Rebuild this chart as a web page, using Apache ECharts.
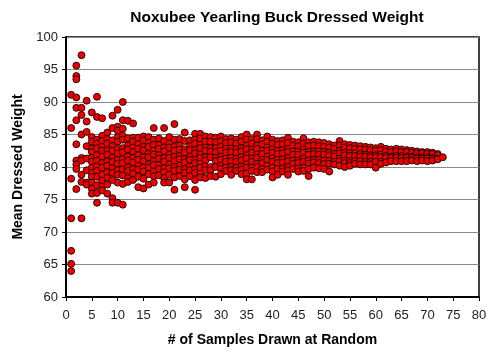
<!DOCTYPE html>
<html><head><meta charset="utf-8">
<script src="https://cdn.jsdelivr.net/npm/echarts@6/dist/echarts.min.js"></script>
<style>html,body{margin:0;padding:0;background:#fff}#c{width:500px;height:357px}</style>
</head><body><div id="c"></div>
<script>
const chartTitle = "Noxubee Yearling Buck Dressed Weight";
const xAxisTitle = "# of Samples Drawn at Random";
const yAxisTitle = "Mean Dressed Weight";
const xTicks = [0,5,10,15,20,25,30,35,40,45,50,55,60,65,70,75,80];
const yTicks = [60,65,70,75,80,85,90,95,100];
// meansBySize[i] = sample means observed for sample size i+1
const meansBySize = [
 [91.1,86.0,78.2,72.1,67.1,65.1,64.0],
 [95.6,94.0,93.5,90.7,89.1,87.2,83.5,81.0,80.4,79.7,76.6],
 [97.2,89.1,88.0,85.0,81.4,81.0,78.8,77.7,72.1],
 [90.2,87.0,85.4,83.2,81.3,79.5,77.6,77.3],
 [88.4,84.6,83.9,82.8,82.3,81.4,80.8,79.9,79.1,78.5,77.6,76.7,75.9],
 [90.8,87.7,84.2,83.6,82.9,81.8,81.0,80.1,79.4,78.5,77.2,76.0,74.5],
 [87.5,84.8,84.0,83.1,82.5,81.6,80.6,79.9,78.8,77.9,77.0,76.4],
 [85.3,84.3,83.6,82.5,81.9,80.8,80.2,79.2,78.3,77.3,75.9],
 [87.9,86.0,84.1,83.2,82.5,81.4,80.8,79.8,79.1,78.0,75.2,74.5],
 [88.8,86.2,85.6,84.6,83.9,82.8,82.1,81.1,80.5,79.5,78.8,77.6,74.5],
 [90.0,87.2,85.9,84.8,84.2,82.9,82.3,81.2,80.6,79.6,78.7,77.4,74.2],
 [87.1,84.4,83.3,82.7,81.6,81.0,79.9,79.4,78.3,77.7],
 [86.7,84.5,83.9,83.0,82.3,81.4,80.7,79.7,79.0,78.0],
 [84.5,83.5,82.8,81.8,81.1,80.2,79.6,78.5,76.9],
 [84.7,84.1,83.1,82.6,81.5,80.9,79.9,79.3,78.2,76.7],
 [84.6,83.7,83.1,82.0,81.5,80.4,79.9,78.9,77.3],
 [86.0,84.2,83.4,82.5,81.9,80.9,80.3,79.3,78.6,77.6],
 [84.4,83.4,82.8,81.8,81.3,80.3,79.7,78.7],
 [86.0,84.0,83.0,82.4,81.4,80.8,79.8,79.2,78.3,77.6],
 [84.6,83.6,83.0,81.9,81.4,80.4,79.8,78.8,77.6],
 [86.6,84.2,83.1,82.5,81.6,80.9,80.0,79.4,78.4,76.5],
 [84.3,83.3,82.7,81.7,81.2,80.2,79.6,78.6],
 [85.3,84.0,82.7,82.2,81.2,80.7,79.7,79.1,78.1,76.9],
 [84.1,83.2,82.6,81.6,81.1,80.1,79.5,78.6],
 [85.1,84.2,83.6,82.6,82.1,81.1,80.6,79.6,79.1,78.0,76.5],
 [85.1,84.4,83.4,82.9,81.9,81.4,80.5,79.9,79.0,78.4],
 [84.7,83.9,83.0,82.5,81.5,81.0,80.1,79.5,78.3],
 [84.6,83.9,82.9,82.4,81.5,80.0,79.5,78.6],
 [84.5,83.8,82.9,82.3,81.4,80.9,80.0,78.5],
 [84.7,84.0,83.1,82.5,81.6,81.1,80.2,79.7,78.9],
 [84.3,83.7,82.8,82.2,81.3,80.8,79.9,79.4],
 [84.4,83.8,82.8,82.3,81.4,80.9,80.0,79.5,78.8],
 [84.2,83.6,82.7,82.2,81.3,80.8,79.9,79.4],
 [84.6,83.9,82.9,82.4,81.5,81.0,80.1,79.6,78.9],
 [85.0,84.2,83.3,82.7,81.8,81.3,80.4,79.9,79.0,78.1],
 [84.3,83.6,82.7,82.2,81.3,80.8,79.9,79.4,78.1],
 [85.0,84.3,83.3,82.8,81.9,81.4,80.5,80.0,79.2],
 [84.1,83.5,82.5,82.0,81.1,80.6,79.7,79.2],
 [84.7,83.9,83.0,82.5,81.6,81.1,80.2,79.6],
 [84.2,83.6,82.7,82.2,81.3,80.8,79.9,79.3,78.4],
 [84.0,83.4,82.5,82.0,81.1,80.6,79.7,78.8],
 [84.1,83.5,82.6,82.1,81.2,80.7,79.8,79.3],
 [84.5,83.7,82.8,82.3,81.4,80.9,80.0,79.5,78.8],
 [83.9,83.3,82.4,81.9,81.0,80.5,79.7],
 [83.8,83.2,82.4,81.9,81.0,80.6,79.8,79.3],
 [84.4,83.6,82.7,82.2,81.3,80.8,79.9,79.4],
 [83.8,83.2,82.3,81.9,81.0,80.5,79.7,78.6],
 [83.9,83.3,82.4,82.0,81.1,80.7,79.9],
 [83.8,83.2,82.4,81.9,81.1,80.6,79.8],
 [83.7,83.1,82.3,81.9,81.0,80.5,79.7],
 [83.5,83.0,82.2,81.8,80.9,80.5,79.3],
 [83.3,82.8,82.0,81.6,80.8,80.4],
 [84.0,83.3,82.5,82.1,81.3,80.9,80.2],
 [83.5,83.0,82.2,81.8,81.0,80.6,80.0],
 [83.4,82.9,82.1,81.7,80.9,80.6,80.2],
 [83.3,82.8,82.1,81.7,80.9,80.5],
 [83.2,82.7,82.0,81.6,80.9,80.4],
 [83.1,82.7,81.9,81.6,80.8,80.4],
 [83.0,82.6,81.8,81.5,80.8,80.4],
 [82.9,82.5,81.8,81.5,80.8,79.9],
 [83.1,82.6,81.9,81.5,80.8,80.5],
 [82.8,82.4,81.7,81.4,80.7],
 [82.7,82.3,81.6,81.4,80.9],
 [82.8,82.4,81.7,81.4,80.9],
 [82.7,82.3,81.7,81.4,80.9],
 [82.6,82.3,81.6,81.4,80.9],
 [82.5,82.2,81.6,81.4,81.0],
 [82.4,82.1,81.5,81.3,80.9],
 [82.3,82.1,81.5,81.3,81.0],
 [82.3,82.0,81.5,81.3,80.9],
 [82.2,82.0,81.4,81.3,81.0],
 [82.0,81.8,81.3,81.2],
 [81.5]
];

const points = [];
meansBySize.forEach((vals, i) => vals.forEach(v => points.push([i + 1, v])));

const FONT = "Liberation Sans, Arial, sans-serif";
const chart = echarts.init(document.getElementById('c'), null, {renderer: 'canvas'});
chart.setOption({
  animation: false,
  backgroundColor: '#fff',
  title: {
    text: chartTitle, left: 272, top: 5, textAlign: 'center',
    textStyle: {fontFamily: FONT, fontSize: 15.5, fontWeight: 'bold', color: '#000'}
  },
  grid: {left: 66, right: 21, top: 37, bottom: 60, show: true, borderColor: '#000', borderWidth: 1.5, backgroundColor: '#fff'},
  xAxis: {
    type: 'value', min: xTicks[0], max: xTicks[xTicks.length - 1], interval: 5,
    name: xAxisTitle, nameLocation: 'middle', nameGap: 36,
    nameTextStyle: {fontFamily: FONT, fontSize: 14, fontWeight: 'bold', color: '#000'},
    axisLine: {onZero: false, lineStyle: {color: '#000', width: 2}},
    axisTick: {show: true, inside: false, length: 4, lineStyle: {color: '#000', width: 1}},
    axisLabel: {fontFamily: FONT, fontSize: 13, color: '#222', margin: 12},
    splitLine: {show: false}
  },
  yAxis: {
    type: 'value', min: yTicks[0], max: yTicks[yTicks.length - 1], interval: 5,
    name: yAxisTitle, nameLocation: 'middle', nameGap: 40,
    nameTextStyle: {fontFamily: FONT, fontSize: 14, fontWeight: 'bold', color: '#000'},
    axisLine: {onZero: false, lineStyle: {color: '#000', width: 2}},
    axisTick: {show: true, inside: false, length: 4, lineStyle: {color: '#000', width: 1}},
    axisLabel: {fontFamily: FONT, fontSize: 13, color: '#222', margin: 8},
    splitLine: {show: true, lineStyle: {color: '#8a8a8a', width: 1}}
  },
  series: [{
    type: 'scatter', data: points, symbol: 'circle', symbolSize: 7,
    itemStyle: {color: '#ee0000', borderColor: '#000', borderWidth: 0.8, opacity: 1},
    progressive: 0
  }]
});
</script></body></html>
